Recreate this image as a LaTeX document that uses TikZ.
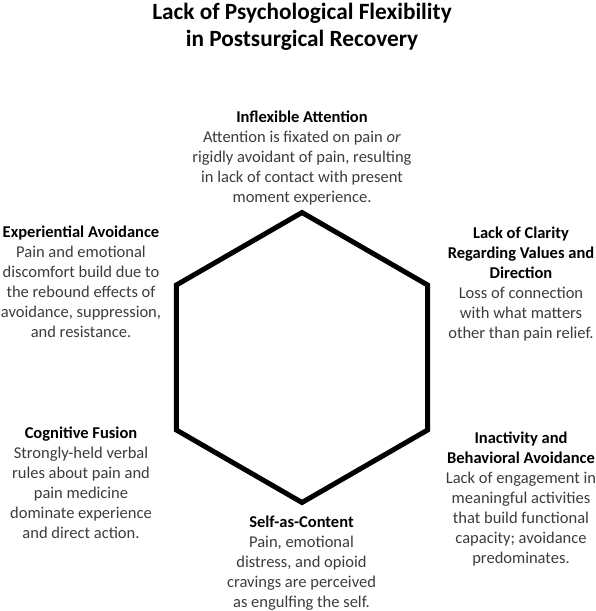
\documentclass[tikz,border=0pt]{standalone}
\usepackage{fontspec}
\setmainfont{Carlito}
\definecolor{bodygray}{HTML}{3C3C3C}
\newcommand{\hd}[1]{{\bfseries\color{black}#1}}

\begin{document}
\begin{tikzpicture}[x=1pt,y=-1pt,
  every node/.style={align=center, inner sep=0pt, anchor=north, text=bodygray,
    font=\fontsize{16.5}{20}\selectfont},
  titletext/.style={text=black, font=\bfseries\fontsize{23.3}{27}\selectfont},
  hexline/.style={line width=5pt, line join=miter}]
  \useasboundingbox (0,0) rectangle (596,611);

  % title
  \node[titletext] (title) at (302,3) {Lack of Psychological Flexibility\\in Postsurgical Recovery};

  % hexagon
  \draw[hexline] (302,212.5) -- (427.6,285) -- (427.6,430) -- (302,502.5)
    -- (176.4,430) -- (176.4,285) -- cycle;

  % the six processes
  \node (att) at (302,111) {\hd{Inflexible Attention}\\Attention is fixated on pain \emph{or}\\
    rigidly avoidant of pain, resulting\\in lack of contact with present\\moment experience.};
  \node (avoid) at (81,226) {\hd{Experiential Avoidance}\\Pain and emotional\\discomfort build due to\\
    the rebound effects of\\avoidance, suppression,\\and resistance.};
  \node (clar) at (521,227) {\hd{Lack of Clarity}\\\hd{Regarding Values and}\\\hd{Direction}\\
    Loss of connection\\with what matters\\other than pain relief.};
  \node (fus) at (81,427) {\hd{Cognitive Fusion}\\Strongly-held verbal\\rules about pain and\\
    pain medicine\\dominate experience\\and direct action.};
  \node (inact) at (521,432) {\hd{Inactivity and}\\\hd{Behavioral Avoidance}\\Lack of engagement in\\
    meaningful activities\\that build functional\\capacity; avoidance\\predominates.};
  \node (self) at (301.5,516) {\hd{Self-as-Content}\\Pain, emotional\\distress, and opioid\\
    cravings are perceived\\as engulfing the self.};
\end{tikzpicture}
\end{document}
